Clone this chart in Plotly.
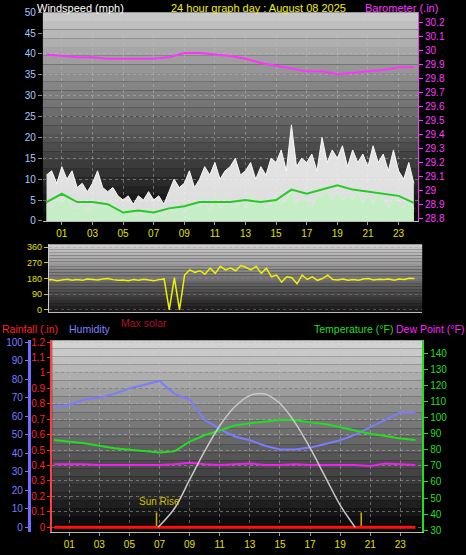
import plotly.graph_objects as go

# ---- data ----
hours = list(range(25))
t20 = [i / 3 for i in range(73)]

wind_gust = [11, 12, 9, 13, 10, 12, 8, 9, 7, 9, 12, 8, 7, 8, 6, 5, 6, 4, 6, 5, 7, 5, 6, 4,
             7, 10, 8, 9, 12, 8, 10, 13, 11, 14, 10, 12, 13, 15, 11, 12, 14, 10, 13, 11, 15,
             14, 17, 12, 23, 13, 15, 14, 16, 12, 20, 14, 17, 15, 18, 13, 17, 14, 16, 13, 18,
             14, 16, 12, 17, 12, 10, 14, 9]
wind_speed = [4, 3, 5, 4, 6, 3, 3, 4, 2, 4, 3, 4, 3, 4, 2, 2, 3, 1, 2, 1, 3, 1, 2, 1, 3, 2, 4,
              2, 3, 4, 3, 5, 2, 6, 3, 4, 4, 3, 5, 3, 6, 4, 5, 3, 4, 6, 4, 5, 7, 4, 5, 5, 3, 6,
              6, 7, 5, 7, 5, 6, 5, 7, 4, 6, 4, 7, 5, 3, 6, 4, 3, 5, 3]
wind_avg = [4.5, 6.5, 4.5, 4.5, 4, 2, 2.5, 2, 3, 3.5, 4.5, 4.5, 4.5, 5, 4.5, 5, 7.5, 6.5,
            7.5, 8.5, 7.5, 7, 6.5, 6, 4.3]
barometer = [29.97, 29.96, 29.95, 29.95, 29.94, 29.94, 29.94, 29.94, 29.95, 29.98, 29.98,
             29.97, 29.96, 29.94, 29.91, 29.89, 29.87, 29.85, 29.85, 29.83, 29.84, 29.85,
             29.86, 29.88, 29.88]
wind_dir = [170, 175, 168, 172, 176, 170, 174, 170, 178, 175, 172, 177, 180, 174, 170,
            172, 168, 175, 170, 176, 172, 168, 174, 178, 0, 185, 0, 200, 230, 215, 225, 205,
            240, 210, 250, 230, 240, 225, 255, 245, 230, 250, 210, 240, 190, 200, 160, 190,
            185, 150, 200, 175, 190, 170, 180, 200, 175, 172, 178, 170, 175, 170, 178, 180,
            172, 176, 175, 178, 170, 178, 175, 182, 180]
humidity = [65, 66, 69, 70, 72, 75, 77, 79, 72, 69, 58, 53, 49, 47, 44, 42, 42, 43, 45, 47,
            50, 54, 58, 62, 62]
temperature = [86, 85, 84, 82.5, 81, 80, 79, 78.3, 79, 85, 89, 92, 95, 96.5, 97.5, 98.5,
               98.5, 97, 96, 94, 92, 90, 88.5, 87, 86]
dew_point = [71, 71, 71, 70.5, 70.5, 70.5, 70.5, 70.5, 71, 72, 71, 70.5, 71, 71.5, 70.5,
             70.5, 71, 70.5, 70.5, 70.5, 70.5, 70, 71.5, 71, 70.5]
solar_hours = [6.9, 8, 9, 10, 11, 12, 13, 14, 15, 16, 17, 18, 19, 20]
max_solar = [0, 120, 300, 480, 640, 760, 830, 840, 780, 660, 500, 320, 140, 0]
rainfall = [0] * 25
sun_rise, sun_set = 6.8, 20.4

odd_hours = list(range(1, 24, 2))
odd_labels = ["%02d" % h for h in odd_hours]

FONT = "Liberation Sans"
fig = go.Figure()

# top panel: wind + barometer
fig.add_trace(go.Scatter(x=t20, y=wind_gust, mode="lines", fill="tozeroy",
                         line=dict(color="rgba(255,255,255,0.95)", width=1),
                         fillcolor="rgba(245,245,245,0.9)", xaxis="x", yaxis="y"))
fig.add_trace(go.Scatter(x=t20, y=wind_speed, mode="lines", fill="tozeroy",
                         line=dict(color="#c8f5c8", width=1),
                         fillcolor="rgba(195,240,195,0.9)", xaxis="x", yaxis="y"))
fig.add_trace(go.Scatter(x=hours, y=wind_avg, mode="lines", line=dict(color="#22cc22", width=2),
                         xaxis="x", yaxis="y"))
fig.add_trace(go.Scatter(x=hours, y=barometer, mode="lines", line=dict(color="#ff33ff", width=2),
                         xaxis="x", yaxis="y2"))

# middle: wind direction
fig.add_trace(go.Scatter(x=t20, y=wind_dir, mode="lines", line=dict(color="#f0f000", width=1.5),
                         xaxis="x2", yaxis="y3"))

# bottom panel
fig.add_trace(go.Scatter(x=solar_hours, y=max_solar, mode="lines", line_shape="spline",
                         line=dict(color="#c8c8c8", width=1.5), xaxis="x3", yaxis="y8"))
fig.add_trace(go.Scatter(x=hours, y=rainfall, mode="lines", line=dict(color="#ff1010", width=3),
                         xaxis="x3", yaxis="y6"))
fig.add_trace(go.Scatter(x=hours, y=humidity, mode="lines", line=dict(color="#7b7bff", width=2),
                         xaxis="x3", yaxis="y5"))
fig.add_trace(go.Scatter(x=hours, y=temperature, mode="lines", line=dict(color="#22dd22", width=2),
                         xaxis="x3", yaxis="y7"))
fig.add_trace(go.Scatter(x=hours, y=dew_point, mode="lines", line=dict(color="#ee22ee", width=2),
                         xaxis="x3", yaxis="y7"))
for s in (sun_rise, sun_set):
    fig.add_trace(go.Scatter(x=[s, s], y=[0, 8], mode="lines", line=dict(color="#c8b400", width=1.5),
                             xaxis="x3", yaxis="y5"))

# gradient backgrounds
shapes = []
for xr, yr, top, bot in (("x", "y", 200, 10), ("x2", "y3", 205, 25), ("x3", "y5", 210, 5)):
    n = 24
    for i in range(n):
        g = int(bot + (top - bot) * i / (n - 1))
        shapes.append(dict(type="rect", xref=xr + " domain", yref=yr + " domain",
                           x0=0, x1=1, y0=i / n, y1=(i + 1) / n, layer="below",
                           line_width=0, fillcolor="rgb(%d,%d,%d)" % (g, g, g)))

grid = dict(showgrid=True, gridcolor="rgba(190,190,190,0.45)", griddash="dot", gridwidth=1)
xcommon = dict(tickvals=odd_hours, ticktext=odd_labels, tickfont=dict(color="#e0e000", size=10),
               ticks="outside", ticklen=3, tickcolor="#999", zeroline=False, automargin=False,
               showline=True, linecolor="#bbb", dtick=1, **grid)

fig.update_layout(
    width=466, height=555, margin=dict(l=0, r=0, t=0, b=0, autoexpand=False),
    paper_bgcolor="black", plot_bgcolor="black", showlegend=False,
    font=dict(family=FONT, size=10), shapes=shapes,
    xaxis=dict(domain=[0.092, 0.897], range=[-0.24, 24.27], anchor="y", **xcommon),
    yaxis=dict(domain=[0.602, 0.978], range=[0, 50], dtick=5, anchor="x", zeroline=False,
               tickfont=dict(color="#a8c8ff", size=10), ticks="outside", ticklen=4,
               tickcolor="#888", automargin=False, **grid),
    yaxis2=dict(overlaying="y", side="right", anchor="x", range=[28.786, 30.271], dtick=0.1,
                tick0=28.8, showgrid=False, zeroline=False, tickfont=dict(color="#ff33ff", size=10),
                ticks="outside", ticklen=4, tickcolor="#ff33ff", showline=True,
                linecolor="#ff33ff", automargin=False),
    xaxis2=dict(domain=[0.105, 0.906], range=[0.15, 24.5], anchor="y3", showticklabels=False,
                showgrid=False, zeroline=False, showline=True, linecolor="#bbb", automargin=False),
    yaxis3=dict(domain=[0.438, 0.560], range=[-11, 377], tickvals=[0, 90, 180, 270, 360],
                anchor="x2", zeroline=False, tickfont=dict(color="#e0e000", size=9),
                ticks="outside", ticklen=4, tickcolor="#cc0", showline=True, linecolor="#ccc",
                showgrid=True, gridcolor="rgba(200,120,200,0.4)", griddash="dot", automargin=False),
    yaxis4=dict(overlaying="y3", side="right", anchor="x2", range=[-11, 377],
                tickvals=[0, 90, 180, 270, 360], ticktext=["N", "E", "S", "W", "N"],
                tickfont=dict(color="#f0f000", size=13), showgrid=False, zeroline=False,
                ticklabelstandoff=14, automargin=False),
    xaxis3=dict(domain=[0.112, 0.906], range=[-0.13, 24.45], anchor="y6", **xcommon),
    yaxis5=dict(domain=[0.041, 0.387], range=[-2.7, 101], dtick=10, anchor="free",
                position=0.062, zeroline=False, showgrid=False, showline=True,
                linecolor="#6f6fff", linewidth=3, tickfont=dict(color="#7b7bff", size=10),
                ticks="outside", ticklen=3, tickcolor="#7b7bff", automargin=False),
    yaxis6=dict(overlaying="y5", side="left", anchor="x3", range=[-0.0324, 1.212], dtick=0.1,
                zeroline=False, showline=True, linecolor="#ff4040", linewidth=2,
                tickfont=dict(color="#ff2020", size=10), ticks="outside", ticklen=3,
                tickcolor="#ff2020", automargin=False, **grid),
    yaxis7=dict(overlaying="y5", side="right", anchor="x3", range=[28.8, 148], dtick=10,
                tick0=40, zeroline=False, showgrid=False, showline=True, linecolor="#22dd22",
                linewidth=2, tickfont=dict(color="#22dd22", size=10), ticks="outside",
                ticklen=4, tickcolor="#22dd22", automargin=False),
    yaxis8=dict(overlaying="y5", range=[-31, 1179], visible=False),
)

ann = [
    ("Windspeed (mph)", 0.075, 1.0, "white", 11),
    ("24 hour graph day : August 08 2025", 0.555, 1.0, "#f0f000", 11),
    ("Barometer (.in)", 0.945, 1.0, "#ff33ff", 11),
    ("Rainfall (.in)", 0.0, 0.421, "#ff2020", 10.5),
    ("Humidity", 0.143, 0.421, "#8080ff", 10.5),
    ("Max solar", 0.255, 0.433, "#b01030", 10.5),
    ("Temperature (°F)", 0.67, 0.421, "#22dd22", 10.5),
    ("Dew Point (°F)", 0.846, 0.421, "#ff22ff", 10.5),
]
for text, x, y, c, sz in ann:
    al = "center" if text.startswith("24") else ("right" if text.startswith("Baro") else "left")
    fig.add_annotation(text=text, x=x, y=y, xref="paper", yref="paper", xanchor=al,
                       yanchor="top", showarrow=False, font=dict(color=c, size=sz, family=FONT))
fig.add_annotation(text="Sun Rise", x=sun_rise - 1.3, y=10, xref="x3", yref="y5",
                   xanchor="left", yanchor="bottom", showarrow=False,
                   font=dict(color="#d0c000", size=10, family=FONT))

fig.write_html("out.html", config={"displayModeBar": False},
               post_script="document.body.style.margin='0';document.body.style.background='black';")
